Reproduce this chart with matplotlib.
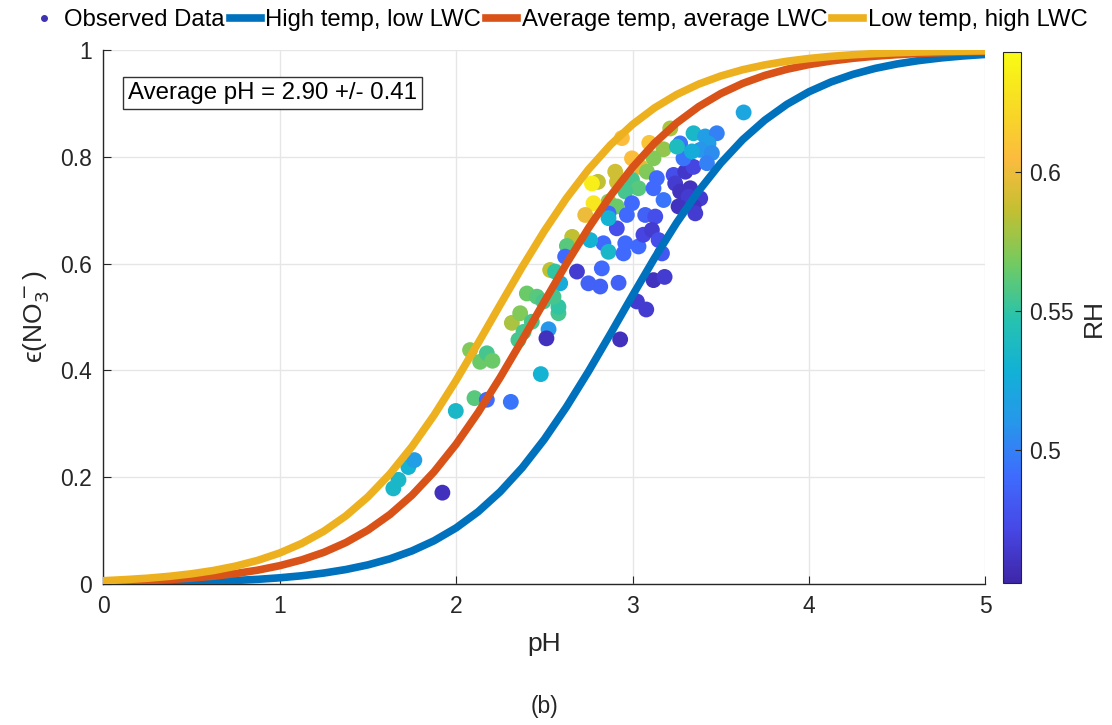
import matplotlib
matplotlib.use('Agg')
import matplotlib.pyplot as plt
from matplotlib.colors import LinearSegmentedColormap
from matplotlib.lines import Line2D
from matplotlib.ticker import FormatStrFormatter

plt.rcParams['font.family'] = ['Liberation Sans', 'DejaVu Sans']

ph_obs = [1.644, 1.673, 1.729, 1.763, 1.922, 1.998, 2.104, 2.174, 2.310, 2.480,
          2.079, 2.136, 2.174, 2.206, 2.316, 2.363, 2.353, 2.382, 2.429, 2.524,
          2.512, 2.580, 2.580, 2.658, 2.628, 2.618, 2.533, 2.561, 2.590, 2.685,
          2.401, 2.458, 2.552, 3.630, 2.940, 3.095, 3.214, 3.176, 3.119, 2.997,
          3.044, 3.082, 2.902, 2.804, 2.770, 2.912, 2.997, 3.034, 2.959, 2.864,
          2.779, 2.732, 2.911, 2.997, 2.864, 2.968, 2.911, 2.864, 2.835, 2.760,
          2.864, 2.949, 2.959, 3.034, 3.072, 3.129, 3.062, 3.110, 3.148, 3.167,
          3.138, 3.119, 3.176, 3.233, 3.299, 3.346, 3.242, 3.270, 3.327, 3.318,
          3.384, 3.261, 3.346, 3.356, 3.270, 3.289, 3.346, 3.412, 3.478, 3.431,
          3.384, 3.450, 3.422, 3.337, 3.252, 2.826, 2.750, 2.817, 2.921, 3.119,
          3.182, 3.025, 3.078, 2.930, 2.495]
eps_obs = [0.179, 0.195, 0.219, 0.232, 0.171, 0.324, 0.348, 0.345, 0.341, 0.393,
           0.438, 0.416, 0.432, 0.418, 0.489, 0.507, 0.457, 0.472, 0.491, 0.477,
           0.460, 0.507, 0.519, 0.650, 0.633, 0.613, 0.588, 0.585, 0.563, 0.585,
           0.544, 0.538, 0.538, 0.883, 0.835, 0.826, 0.853, 0.814, 0.797, 0.797,
           0.781, 0.772, 0.772, 0.753, 0.750, 0.753, 0.757, 0.741, 0.735, 0.716,
           0.713, 0.691, 0.707, 0.713, 0.694, 0.691, 0.666, 0.685, 0.638, 0.644,
           0.622, 0.619, 0.638, 0.632, 0.691, 0.688, 0.654, 0.663, 0.644, 0.619,
           0.760, 0.741, 0.719, 0.766, 0.772, 0.781, 0.750, 0.735, 0.741, 0.725,
           0.722, 0.707, 0.707, 0.694, 0.825, 0.797, 0.844, 0.838, 0.844, 0.825,
           0.813, 0.807, 0.788, 0.810, 0.819, 0.591, 0.563, 0.557, 0.564, 0.569,
           0.575, 0.529, 0.514, 0.458, 0.529]
rh_obs = [0.535, 0.535, 0.530, 0.515, 0.458, 0.535, 0.560, 0.490, 0.495, 0.530,
          0.570, 0.565, 0.555, 0.565, 0.580, 0.570, 0.555, 0.555, 0.555, 0.510,
          0.458, 0.555, 0.550, 0.585, 0.560, 0.490, 0.585, 0.550, 0.525, 0.465,
          0.565, 0.560, 0.555, 0.520, 0.605, 0.610, 0.580, 0.575, 0.570, 0.605,
          0.595, 0.570, 0.590, 0.585, 0.635, 0.590, 0.555, 0.560, 0.555, 0.575,
          0.630, 0.600, 0.565, 0.490, 0.490, 0.490, 0.475, 0.530, 0.490, 0.530,
          0.535, 0.490, 0.490, 0.490, 0.485, 0.475, 0.470, 0.465, 0.475, 0.480,
          0.490, 0.490, 0.495, 0.475, 0.462, 0.470, 0.465, 0.460, 0.460, 0.465,
          0.465, 0.460, 0.460, 0.465, 0.495, 0.495, 0.535, 0.515, 0.500, 0.515,
          0.510, 0.505, 0.500, 0.525, 0.540, 0.490, 0.485, 0.485, 0.485, 0.460,
          0.465, 0.465, 0.465, 0.458, 0.555]

# --- partitioning curves (every 0.125 pH) ---
ph_curve = [0, 0.125, 0.25, 0.375, 0.5, 0.625, 0.75, 0.875, 1, 1.125,
            1.25, 1.375, 1.5, 1.625, 1.75, 1.875, 2, 2.125, 2.25, 2.375,
            2.5, 2.625, 2.75, 2.875, 3, 3.125, 3.25, 3.375, 3.5, 3.625,
            3.75, 3.875, 4, 4.125, 4.25, 4.375, 4.5, 4.625, 4.75, 4.875, 5]
eps_high_temp = [0.0012, 0.0016, 0.0021, 0.0028, 0.0037, 0.0049, 0.0066, 0.0087, 0.0116, 0.0154,
                 0.0205, 0.0271, 0.0358, 0.0472, 0.0620, 0.0810, 0.1051, 0.1354, 0.1728, 0.2179,
                 0.2709, 0.3313, 0.3978, 0.4684, 0.5402, 0.6104, 0.6763, 0.7359, 0.7879, 0.8321,
                 0.8685, 0.8981, 0.9216, 0.9400, 0.9543, 0.9654, 0.9738, 0.9802, 0.9851, 0.9888,
                 0.9916]
eps_avg_temp = [0.0035, 0.0047, 0.0063, 0.0083, 0.0111, 0.0147, 0.0196, 0.0259, 0.0343, 0.0452,
                0.0593, 0.0776, 0.1009, 0.1302, 0.1663, 0.2102, 0.2619, 0.3212, 0.3869, 0.4569,
                0.5288, 0.5995, 0.6662, 0.7269, 0.7801, 0.8256, 0.8632, 0.8938, 0.9182, 0.9374,
                0.9523, 0.9638, 0.9726, 0.9793, 0.9844, 0.9883, 0.9912, 0.9934, 0.9950, 0.9963,
                0.9972]
eps_low_temp = [0.0061, 0.0082, 0.0108, 0.0144, 0.0191, 0.0253, 0.0335, 0.0442, 0.0581, 0.0760,
                0.0988, 0.1276, 0.1632, 0.2063, 0.2575, 0.3162, 0.3814, 0.4512, 0.5230, 0.5938,
                0.6610, 0.7222, 0.7761, 0.8222, 0.8604, 0.8916, 0.9164, 0.9360, 0.9512, 0.9630,
                0.9720, 0.9788, 0.9840, 0.9880, 0.9910, 0.9932, 0.9949, 0.9962, 0.9971, 0.9978,
                0.9984]
curve_labels = ['High temp, low LWC', 'Average temp, average LWC', 'Low temp, high LWC']

# colormap parecido com o parula do MATLAB
parula = LinearSegmentedColormap.from_list('parula', [
    (0.2422, 0.1504, 0.6603), (0.2780, 0.2800, 0.9000), (0.2450, 0.4200, 0.9960),
    (0.1540, 0.5900, 0.9220), (0.0700, 0.6950, 0.8400), (0.1540, 0.7640, 0.6800),
    (0.4420, 0.7950, 0.3830), (0.7600, 0.7510, 0.1940), (0.9870, 0.7350, 0.2440),
    (0.9700, 0.8600, 0.1400), (0.9769, 0.9839, 0.0805)])

fs = 16.5
fs_lab = 19
fig = plt.figure(figsize=(11.12, 7.25), dpi=100)
ax = fig.add_axes([0.093, 0.1945, 0.793, 0.7366])

sc = ax.scatter(ph_obs, eps_obs, c=rh_obs, cmap=parula, vmin=0.452, vmax=0.643,
                s=130, linewidths=0, zorder=2)

colores = ['#0072BD', '#D95319', '#EDB120']
for vals, cor, lab in zip([eps_high_temp, eps_avg_temp, eps_low_temp], colores, curve_labels):
    ax.plot(ph_curve, vals, color=cor, lw=5.5, zorder=3, label=lab)

ax.set_xlim(0, 5)
ax.set_ylim(0, 1)
ax.set_xticks([0, 1, 2, 3, 4, 5])
ax.set_yticks([0, 0.2, 0.4, 0.6, 0.8, 1])
ax.yaxis.set_major_formatter(FormatStrFormatter('%g'))
ax.grid(True, color='#e6e6e6', lw=1)
ax.set_axisbelow(True)
for s in ['top', 'right']:
    ax.spines[s].set_visible(False)
for s in ['left', 'bottom']:
    ax.spines[s].set_color('#262626')
    ax.spines[s].set_linewidth(1)
ax.tick_params(direction='in', length=6, colors='#262626', labelsize=fs, pad=8)
ax.set_xlabel('pH', fontsize=fs_lab, color='#262626', labelpad=10)
ax.set_ylabel('\u03f5(NO$_3^-$)', fontsize=fs_lab, color='#262626', labelpad=6)

ax.text(0.14, 0.919, 'Average pH = 2.90 +/- 0.41', fontsize=17.3, va='center', ha='left',
        color='black', zorder=5,
        bbox=dict(boxstyle='square,pad=0.22', facecolor='white', edgecolor='#333333', lw=1))

# barra de cores
cax = fig.add_axes([0.902, 0.196, 0.0162, 0.732])
cb = fig.colorbar(sc, cax=cax)
cb.set_ticks([0.5, 0.55, 0.6])
cb.ax.yaxis.set_major_formatter(FormatStrFormatter('%g'))
cb.ax.tick_params(direction='in', length=4, labelsize=fs, colors='#262626', pad=6)
cb.outline.set_edgecolor('#262626')
cb.outline.set_linewidth(0.8)
cb.set_label('RH', fontsize=fs_lab, color='#262626', labelpad=6)

# legenda
handles = [Line2D([], [], ls='none', marker='o', ms=4, color='#3F33B0')]
handles += ax.get_lines()
labels = ['Observed Data'] + curve_labels
fig.legend(handles, labels, loc='center', bbox_to_anchor=(0.502, 0.972), ncol=4,
           frameon=False, fontsize=17.2, handlelength=1.3, handletextpad=0.2,
           columnspacing=0.2, borderaxespad=0)

fig.text(0.49, 0.025, '(b)', ha='center', va='center', fontsize=fs, color='#262626')

fig.savefig('out.png', dpi=100)
